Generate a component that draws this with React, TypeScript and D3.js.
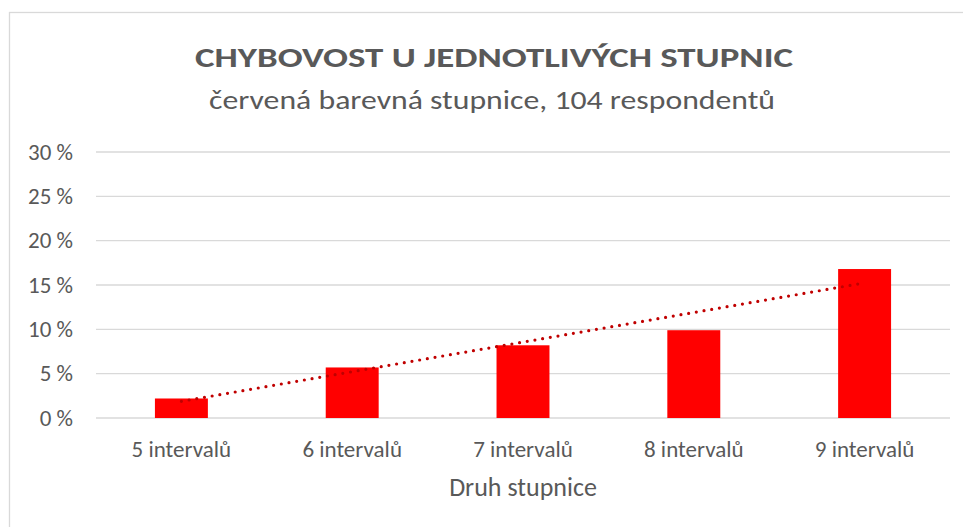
import React from 'react';
import * as d3 from 'd3';

const categories = ['5 intervalů', '6 intervalů', '7 intervalů', '8 intervalů', '9 intervalů'];
const errorRates = [2.2, 5.7, 8.2, 9.9, 16.8];
const yTicks = [0, 5, 10, 15, 20, 25, 30];

const W = 963;
const H = 527;
const margin = { top: 152, right: 13, bottom: 109, left: 96 };
const textColor = '#595959';
const font = "Carlito, Lato, sans-serif";

export default function App() {
  const innerW = W - margin.left - margin.right;

  const x = d3.scaleBand().domain(categories).range([margin.left, W - margin.right]).paddingInner(0.69).paddingOuter(0.345);
  const y = d3.scaleLinear().domain([0, 30]).range([H - margin.bottom, margin.top]);

  // linear trendline (least squares) like excel
  const xs = errorRates.map((_, i) => i + 1);
  const mx = d3.mean(xs)!;
  const my = d3.mean(errorRates)!;
  const slope = d3.sum(xs, (v, i) => (v - mx) * (errorRates[i] - my)) / d3.sum(xs, v => (v - mx) * (v - mx));
  const trend = categories.map((c, i) => ({ cx: x(c)! + x.bandwidth() / 2, v: my + slope * (xs[i] - mx) }));
  const trendPath = d3.line<{ cx: number; v: number }>().x(d => d.cx).y(d => y(d.v))(trend) || '';

  const plotCenter = margin.left + innerW / 2;

  return (
    <div style={{ position: 'absolute', left: 0, top: 0 }}>
      <svg width={W} height={H} style={{ display: 'block', background: '#fff' }}>
        <rect x={9.5} y={12.5} width={W + 20} height={H + 20} fill="#fff" stroke="#D9D9D9" strokeWidth={1.3} />

        <text x={494} y={67} textAnchor="middle" fill={textColor} fontFamily={font} fontWeight="bold" fontSize={29}
          textLength={598} lengthAdjust="spacingAndGlyphs">CHYBOVOST U JEDNOTLIVÝCH STUPNIC</text>
        <text x={492} y={109} textAnchor="middle" fill={textColor} fontFamily={font} fontSize={27}
          textLength={566} lengthAdjust="spacingAndGlyphs">červená barevná stupnice, 104 respondentů</text>

        {yTicks.map(t => (
          <g key={t}>
            <line x1={margin.left} x2={W - margin.right} y1={y(t)} y2={y(t)} stroke="#D9D9D9" strokeWidth={1.3} />
            <text x={73} y={y(t) + 7.5} textAnchor="end" fill={textColor} fontFamily={font} fontSize={23}>{t} %</text>
          </g>
        ))}

        {categories.map((c, i) => (
          <rect key={c} x={x(c)} y={y(errorRates[i])} width={x.bandwidth()} height={y(0) - y(errorRates[i])} fill="#FF0000" />
        ))}

        <path d={trendPath} fill="none" stroke="#C00000" strokeWidth={3.2} strokeLinecap="round" strokeDasharray="0 7.8" />

        {categories.map(c => (
          <text key={c} x={x(c)! + x.bandwidth() / 2} y={457} textAnchor="middle" fill={textColor} fontFamily={font} fontSize={23}>{c}</text>
        ))}

        <text x={plotCenter} y={496} textAnchor="middle" fill={textColor} fontFamily={font} fontSize={26}>Druh stupnice</text>
      </svg>
    </div>
  );
}
